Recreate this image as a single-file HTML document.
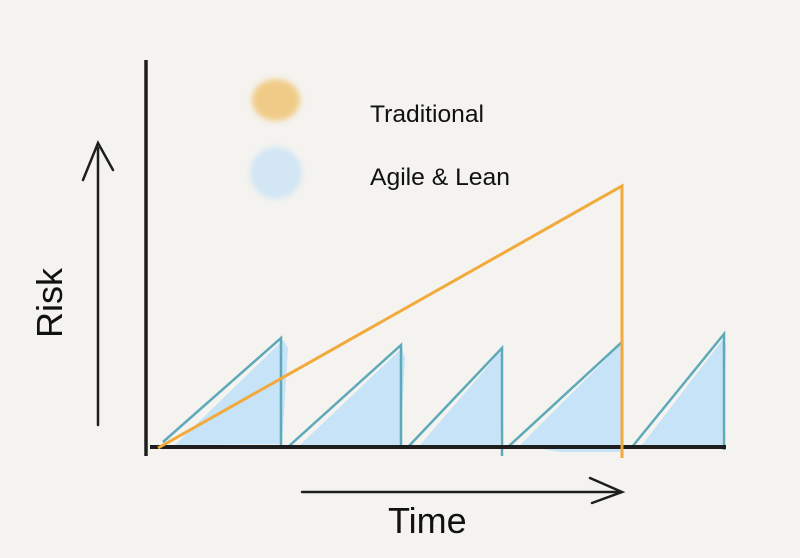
<!DOCTYPE html>
<html><head><style>
html,body{margin:0;padding:0;background:#f4f3ef;}
svg{display:block;}
text{font-family:"Liberation Sans",sans-serif;fill:#111;}
</style></head><body>
<svg width="800" height="558" viewBox="0 0 800 558">
<defs>
<filter id="b" x="-50%" y="-50%" width="200%" height="200%"><feGaussianBlur stdDeviation="3"/></filter>
</defs>
<rect width="800" height="558" fill="#f4f3ef"/>
<ellipse cx="276" cy="100" rx="24" ry="21" fill="#f0c474" opacity="0.85" filter="url(#b)"/>
<ellipse cx="276" cy="173" rx="26" ry="26" fill="#d2e6f4" filter="url(#b)"/>
<text x="370" y="122" font-size="24" textLength="114" lengthAdjust="spacingAndGlyphs">Traditional</text>
<text x="370" y="185" font-size="24" textLength="140" lengthAdjust="spacingAndGlyphs">Agile &amp; Lean</text>
<g fill="#c6e3f8">
<polygon points="175,445 283,340 288,348 282,444"/>
<polygon points="300,445 402,348 405,358 400,446"/>
<polygon points="420,445 500,352 503,360 500,446"/>
<polygon points="520,445 620,345 624,355 620,452 560,452"/>
<polygon points="642,445 724,338 726,346 722,446"/>
</g>
<g stroke="#5ea9ba" stroke-width="2.5" fill="none">
<polyline points="163,442 281,338 281,448"/>
<polyline points="288,447 401,345 401,445"/>
<polyline points="408,447 502,348 502,456"/>
<polyline points="508,447 622,342 622,450"/>
<polyline points="632,447 724,334 724,450"/>
</g>
<line x1="146" y1="60" x2="146" y2="456" stroke="#1e1e1e" stroke-width="3.5"/>
<line x1="150" y1="447" x2="726" y2="447" stroke="#1e1e1e" stroke-width="4"/>
<polyline points="158,448 622,186 622,458" stroke="#f1aa3b" stroke-width="3" fill="none"/>
<g stroke="#1e1e1e" stroke-width="2.5" fill="none" stroke-linecap="round">
<line x1="98" y1="425" x2="98" y2="148"/>
<polyline points="83,180 98,143 113,170"/>
<line x1="302" y1="492" x2="618" y2="492"/>
<polyline points="590,478 622,492 592,503"/>
</g>
<text x="0" y="0" font-size="36" transform="translate(62,338) rotate(-90)">Risk</text>
<text x="388" y="533" font-size="36">Time</text>
</svg>
</body></html>
